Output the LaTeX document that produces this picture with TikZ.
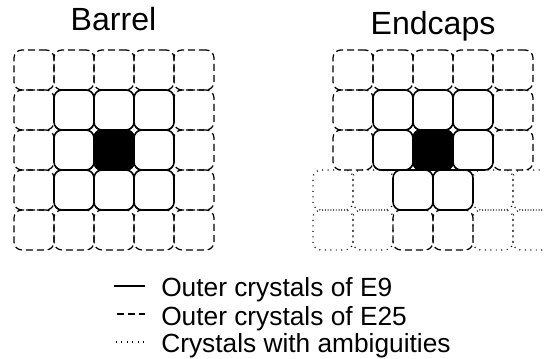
\documentclass[tikz,border=0pt]{standalone}
\usepackage{fontspec}
\setmainfont{Liberation Sans}
\usetikzlibrary{positioning}
\tikzset{
    %Define style for crystal cells
    crystal/.style={
           rectangle,
           rounded corners=0.2cm,
           draw=black,
           minimum size=1cm,
           inner sep=0pt,
           outer sep=0pt},
    % E9 ring
    e9cell/.style={crystal, line width=1.1pt},
    % E25 ring
    e25cell/.style={crystal, line width=0.9pt, dash pattern=on 5pt off 2.8pt},
    % ambiguous crystals
    ambcell/.style={crystal, line width=0.9pt, dash pattern=on 0.7pt off 3.2pt},
    seedcell/.style={e9cell, fill=black},
    % Define style for texts
    titel/.style={font=\fontsize{22.8pt}{27pt}\selectfont, inner sep=0pt, anchor=base},
    legtext/.style={font=\fontsize{18.7pt}{22pt}\selectfont, inner sep=0pt, anchor=base west},
}

\begin{document}
\begin{tikzpicture}[x=0.025cm,y=-0.025cm]
\useasboundingbox (0,0) rectangle (544,359);

% Titles
\node[titel] (barrel) at (113.5,31) {Barrel};
\node[titel] (endcaps) at (433,34.5) {Endcaps};

% Barrel
\foreach \i in {0,...,4}
  \foreach \j in {0,...,4}
    \node[e25cell] (b25-\i\j) at (34+40*\i,70+40*\j) {};
\foreach \i in {1,2,3}
  \foreach \j in {1,2,3}
    \node[e9cell] (b9-\i\j) at (34+40*\i,70+40*\j) {};
\node[seedcell] (bseed) at (114,150) {};

% Endcaps, shifted rows
\foreach \i in {0,1,4,5}
  \foreach \j in {3,4}
    \node[ambcell] (amb-\i\j) at (333+40*\i,70+40*\j) {};
\node[e25cell] (e25-low2) at (413,230) {};
\node[e25cell] (e25-low3) at (453,230) {};
\node[e9cell] (e9-low2) at (413,190) {};
\node[e9cell] (e9-low3) at (453,190) {};

% Endcaps, upper rows
\foreach \i in {0,...,4}
  \foreach \j in {0,1,2}
    \node[e25cell] (e25-\i\j) at (353+40*\i,70+40*\j) {};
\foreach \i in {1,2,3}
  \foreach \j in {1,2}
    \node[e9cell] (e9-\i\j) at (353+40*\i,70+40*\j) {};
\node[seedcell] (eseed) at (433,150) {};

% Legend
\node[legtext] (leg9) at (161,296.5) {Outer crystals of E9};
\node[legtext] (leg25) at (161,325) {Outer crystals of E25};
\node[legtext] (legamb) at (161,352) {Crystals with ambiguities};
\coordinate (l9a) at (114,286);
\coordinate (l9b) at (145,286);
\coordinate (l25a) at (117,314);
\coordinate (l25b) at (145,314);
\coordinate (lamba) at (116,342);
\coordinate (lambb) at (145,342);
\draw[line width=0.9pt] (l9a) -- (l9b);
\draw[line width=0.9pt, dash pattern=on 5pt off 2.8pt] (l25a) -- (l25b);
\draw[line width=0.9pt, dash pattern=on 0.7pt off 3.2pt] (lamba) -- (lambb);
\end{tikzpicture}
\end{document}
